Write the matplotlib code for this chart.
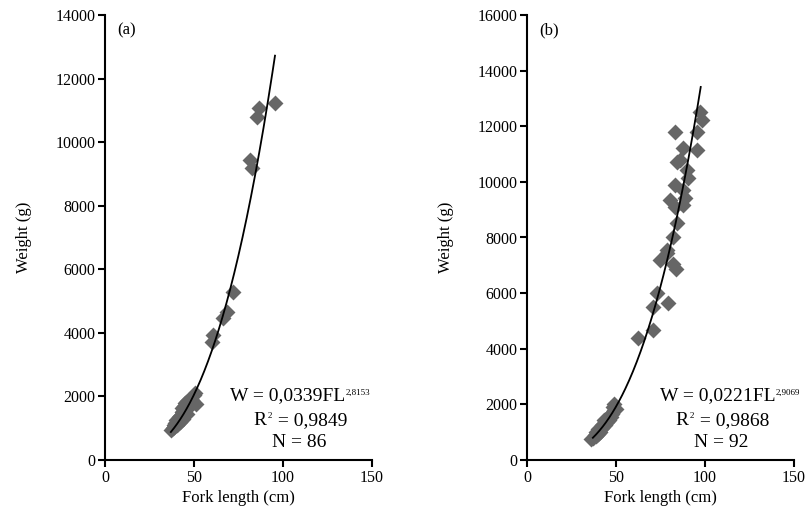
import numpy as np
import matplotlib
matplotlib.use("Agg")
import matplotlib.pyplot as plt

plt.rcParams['font.family'] = ['Liberation Serif', 'DejaVu Serif']

# ---- Data (a) ----
fl_a = [37, 38, 38.5, 39, 40, 40, 41, 41.5, 42, 42.5, 43, 43, 44, 44.5, 45, 45,
        46, 46.5, 47, 48, 48.5, 49, 50, 50.5, 51, 46, 44, 42, 40.5, 39.5,
        60, 60.7, 66.3, 68.5, 72, 81.5, 82.6, 85.4, 86.5, 95.5]
w_a = [950, 1000, 1100, 1050, 1150, 1250, 1250, 1350, 1400, 1300, 1500, 1650, 1550,
       1700, 1800, 1600, 1850, 1750, 1900, 1700, 1800, 1900, 2050, 2100, 1750, 1450,
       1300, 1200, 1100, 1150,
       3710, 3930, 4470, 4660, 5300, 9440, 9190, 10790, 11070, 11230]

# ---- Data (b) ----
fl_b = [36, 37, 38, 38.5, 39, 40, 40, 41, 41.5, 42, 43, 43, 44, 44.5, 45, 45.5,
        46, 47, 47.5, 48, 48.5, 49, 50, 49, 46, 44, 42, 40, 39, 41, 43.5, 45,
        62.4, 70.8, 70.8, 79.2, 73, 83.5, 82, 74.7, 78.7, 78.7, 82, 84.3,
        87.6, 88.8, 83.1, 80.3, 87.6, 83.1, 90.5, 89.9, 84, 86, 87.6,
        95.5, 95.5, 83.1, 98.3, 97.2]
w_b = [750, 800, 900, 850, 1000, 950, 1100, 1100, 1200, 1150, 1300, 1250, 1400,
       1350, 1500, 1450, 1600, 1550, 1700, 1650, 1900, 2000, 1850, 1800, 1450,
       1250, 1250, 1050, 900, 1000, 1450, 1350,
       4380, 4670, 5500, 5650, 6000, 6850, 7050, 7190, 7550, 7440, 8020, 8520,
       9170, 9420, 9100, 9350, 9710, 9890, 10140, 10430, 10720, 10790, 11220,
       11150, 11790, 11790, 12230, 12510]

a_coef, b_exp = 0.0339, 2.8153
a_coef_b, b_exp_b = 0.0221, 2.9069
fit_range_a = (37, 95.5)
fit_range_b = (37, 97.6)

W_, H_ = 810, 519
fig = plt.figure(figsize=(W_/100, H_/100), dpi=100)

def make_axes(left_px, ymax, fl, w, coef, expo, frange, label,
              eq1, sup1, rval, nline, x_eq1):
    ax = fig.add_axes([left_px/W_, (H_-460)/H_, 267/W_, 445/H_])
    ax.scatter(fl, w, marker='D', s=66, color='#666666', linewidths=0, zorder=2)
    xx = np.linspace(frange[0], frange[1], 200)
    ax.plot(xx, coef*xx**expo, color='black', lw=1.3, zorder=3)
    ax.set_xlim(0, 150)
    ax.set_ylim(0, ymax)
    ax.set_xticks([0, 50, 100, 150])
    ax.set_yticks(np.arange(0, ymax+1, 2000))
    for s in ['top', 'right']:
        ax.spines[s].set_visible(False)
    for s in ['left', 'bottom']:
        ax.spines[s].set_linewidth(1.5)
    ax.tick_params(direction='out', length=5, width=1.5, labelsize=11.5, pad=2)
    ax.set_xlabel('Fork length (cm)', fontsize=12, labelpad=3)
    ax.set_ylabel('Weight (g)', fontsize=12, labelpad=17)
    ax.text(0.047, 0.966, label, transform=ax.transAxes, fontsize=12, va='center', ha='left')
    # equation block
    t1 = ax.text(x_eq1, 0.145, eq1, transform=ax.transAxes, fontsize=14,
                 ha='left', va='center')
    ax.annotate(sup1, xy=(1.0, 0.88), xycoords=t1, fontsize=6.5, ha='left', va='top')
    tr = ax.text(0.554, 0.088, 'R', transform=ax.transAxes, fontsize=14,
                 ha='left', va='center')
    ax.annotate('2', xy=(1.0, 1.0), xycoords=tr, xytext=(1.5, 0),
                textcoords='offset points', fontsize=6.5, ha='left', va='top')
    ax.annotate(' = ' + rval, xy=(1.0, 0.5), xycoords=tr, xytext=(5, 0),
                textcoords='offset points', fontsize=14, ha='left', va='center')
    ax.text(0.729, 0.04, nline, transform=ax.transAxes, fontsize=14,
            ha='center', va='center')
    return ax

ax1 = make_axes(105, 14000, fl_a, w_a, a_coef, b_exp, fit_range_a, '(a)',
                'W = 0,0339FL', '2,8153', '0,9849', 'N = 86', 0.468)
ax2 = make_axes(527, 16000, fl_b, w_b, a_coef_b, b_exp_b, fit_range_b, '(b)',
                'W = 0,0221FL', '2,9069', '0,9868', 'N = 92', 0.498)

fig.savefig('out.png', dpi=100)
